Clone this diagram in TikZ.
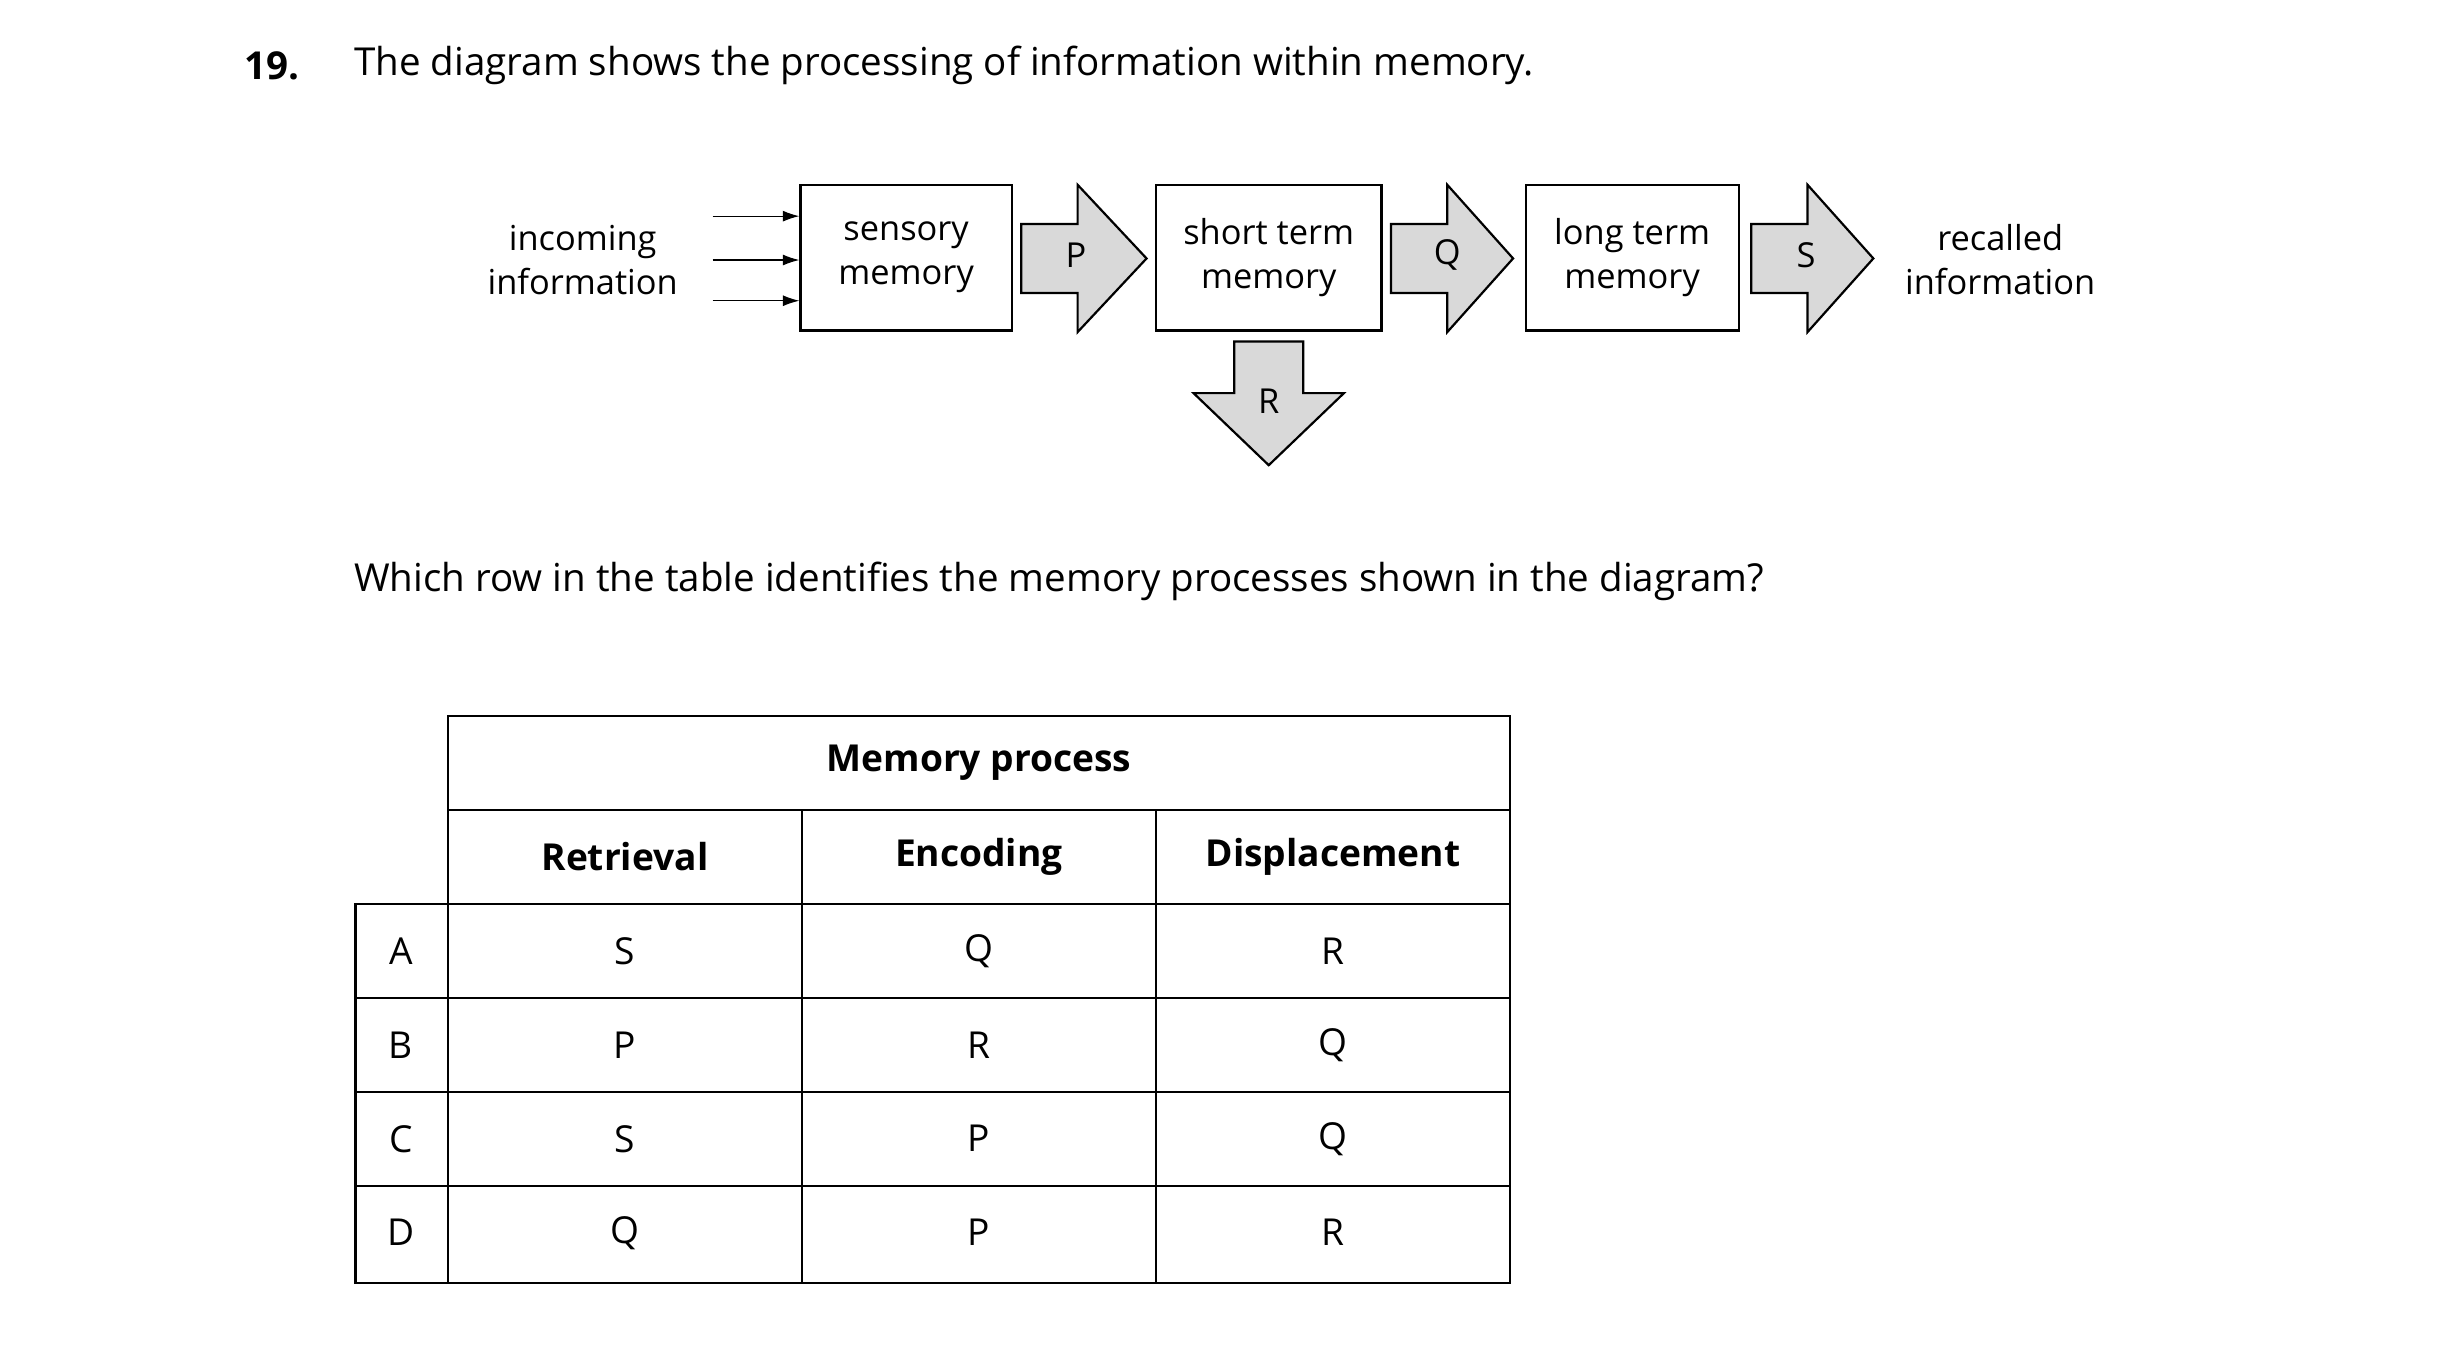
\documentclass[tikz,border=0pt]{standalone}
\usepackage{fontspec}
\setmainfont{Open Sans}
\usetikzlibrary{arrows.meta, positioning}

\tikzset{
  box/.style={draw, thick, minimum width=135*0.02cm, minimum height=93*0.02cm, align=center, inner sep=0pt},
  blk/.style={draw, thick, fill=gray!30, line join=miter},
  lbl/.style={align=center, font=\fontsize{12.5}{16}\selectfont},
  cell/.style={font=\fontsize{13.5}{16}\selectfont},
  hcell/.style={font=\fontsize{13.5}{16}\selectfont\bfseries},
}
% right-pointing block arrow from x=#1 to #2, centre y=#3
\newcommand{\rarrow}[3]{%
  \draw[blk] (#1,#3-22) -- ({#1+36},#3-22) -- ({#1+36},#3-47) -- (#2,#3)
    -- ({#1+36},#3+47) -- ({#1+36},#3+22) -- (#1,#3+22) -- cycle;}

\begin{document}
\begin{tikzpicture}[x=0.02cm, y=-0.02cm, font=\fontsize{14}{17}\selectfont]
\useasboundingbox (0,0) rectangle (1568,868);

% question
\node[anchor=west, font=\fontsize{14}{17}\selectfont\bfseries] (num) at (150,42) {19.};
\node[anchor=west] (q1) at (220,42) {The diagram shows the processing of information within memory.};

% diagram
\node[lbl] (inc) at (372,166) {incoming\\information};
\node[box, lbl] (sens) at (578.5,164.5) {sensory\\memory};
\node[box, lbl, minimum width=144*0.02cm] (stm) at (810,164.5) {short term\\memory};
\node[box, lbl, minimum width=136*0.02cm] (ltm) at (1042,164.5) {long term\\memory};
\node[lbl] (rec) at (1277,166) {recalled\\information};

\foreach \y in {138,166,192} {
  \coordinate (in\y) at (455,\y);
  \draw[-{Latex[length=6pt,width=4pt]}] (in\y) -- (sens.west |- in\y);
}

\rarrow{652}{732}{165}
\node[lbl] (p) at (687,163) {P};
\rarrow{888}{966}{165}
\node[lbl] (q) at (924,163) {Q};
\rarrow{1118}{1196}{165}
\node[lbl] (s) at (1153,163) {S};

\draw[blk] (788,218) -- (832,218) -- (832,251) -- (858,251) -- (810,297)
  -- (762,251) -- (788,251) -- cycle;
\node[lbl] (r) at (810,256) {R};

\node[anchor=west] (q2) at (220,371) {Which row in the table identifies the memory processes shown in the diagram?};

% table
\draw[thick] (286,457) rectangle (964,819);
\draw[thick] (227,577) rectangle (286,819);
\foreach \y in {517,577,637,697,757} \draw[thick] (286,\y) -- (964,\y);
\foreach \y in {637,697,757} \draw[thick] (227,\y) -- (286,\y);
\foreach \x in {512,738} \draw[thick] (\x,517) -- (\x,819);

\node[hcell] (hdr) at (625,487) {Memory process};
\node[hcell] (c1) at (399,547) {Retrieval};
\node[hcell] (c2) at (625,547) {Encoding};
\node[hcell] (c3) at (851,547) {Displacement};
\foreach \row/\y/\a/\b/\c in {A/607/S/Q/R, B/667/P/R/Q, C/727/S/P/Q, D/787/Q/P/R} {
  \node[cell] (l\row) at (256,\y) {\row};
  \node[cell] (a\row) at (399,\y) {\a};
  \node[cell] (b\row) at (625,\y) {\b};
  \node[cell] (d\row) at (851,\y) {\c};
}
\end{tikzpicture}
\end{document}
